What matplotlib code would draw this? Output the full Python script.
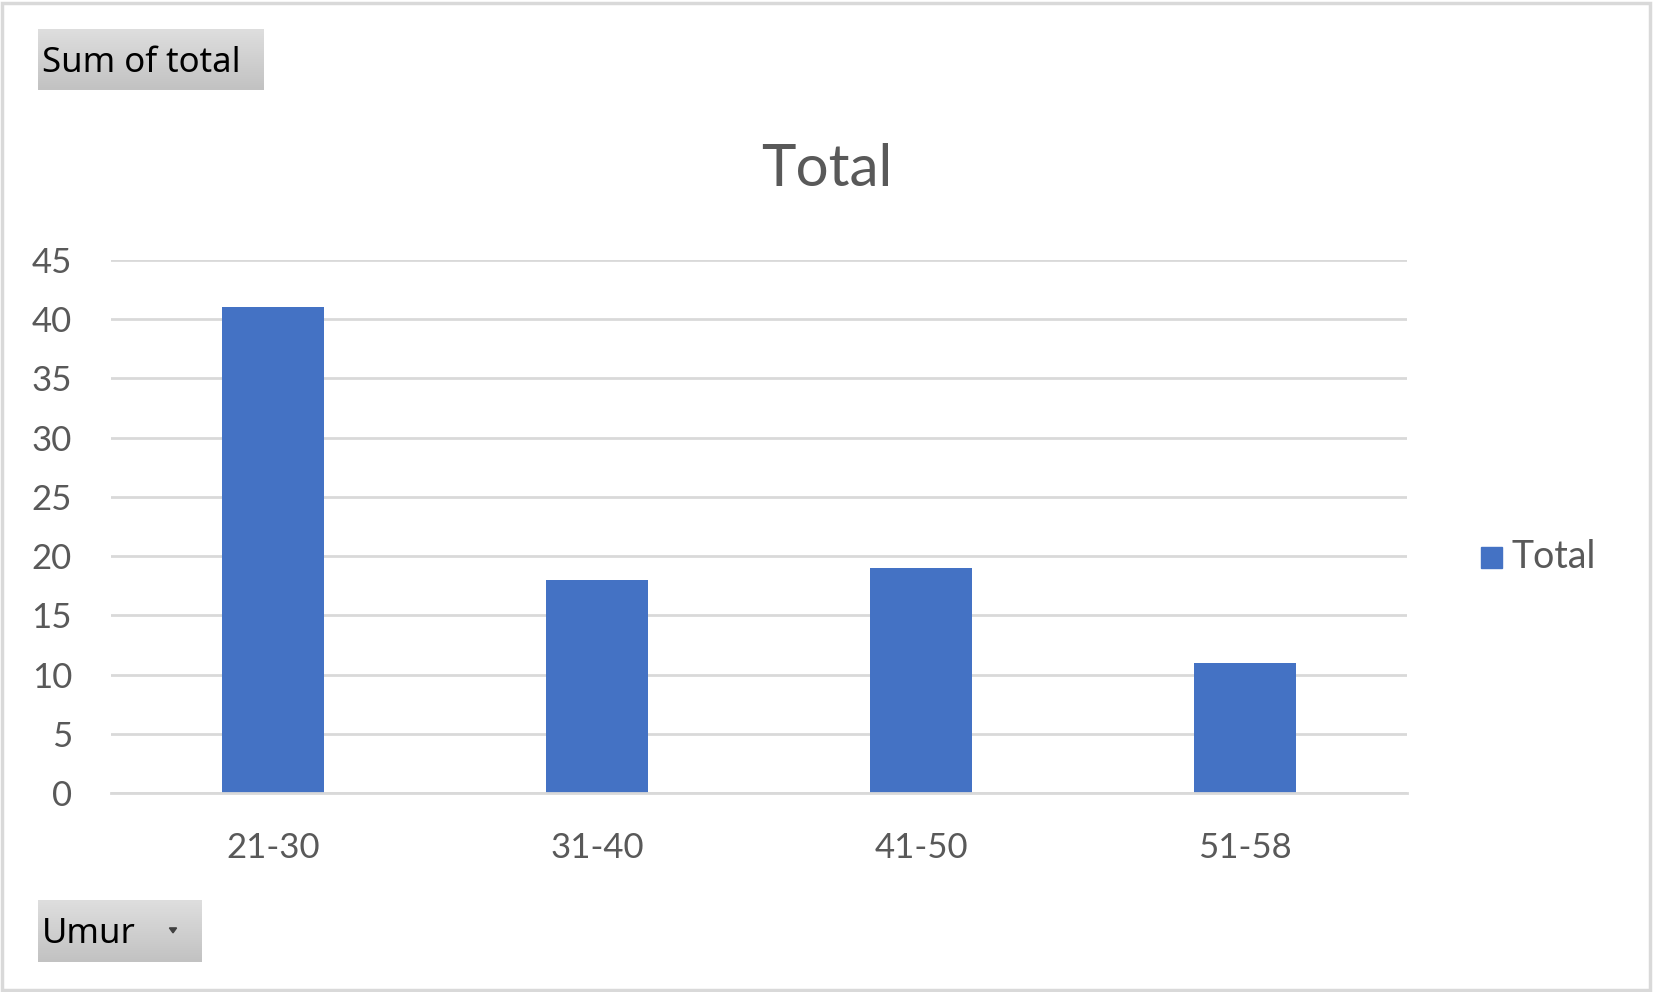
import matplotlib
matplotlib.use("Agg")
import matplotlib.pyplot as plt
import numpy as np
from matplotlib.patches import Rectangle, Polygon
from matplotlib.colors import LinearSegmentedColormap

categories = ["21-30", "31-40", "41-50", "51-58"]
values = [41, 18, 19, 11]
series_name = "Total"
yticks = [0, 5, 10, 15, 20, 25, 30, 35, 40, 45]

W, H = 1653, 992
fig = plt.figure(figsize=(W / 100, H / 100), dpi=100)
fig.patch.set_facecolor("white")

FONT = "Lato"
GRAY = "#595959"
GRID = "#d9d9d9"
BLUE = "#4472C4"

def fx(px):
    return px / W

def fy(py):
    return 1 - py / H

# plot area
left, right, top, bottom = 111, 1407, 260, 793
ax = fig.add_axes([fx(left), fy(bottom), fx(right - left), (bottom - top) / H])
x = np.arange(len(categories))
ax.bar(x, values, width=0.315, color=BLUE, zorder=3)
ax.set_xlim(-0.5, len(categories) - 0.5)
ax.set_ylim(0, 45)
ax.set_yticks(yticks)
ax.set_xticks(x)
ax.set_xticklabels(categories)
for s in ["top", "right", "left"]:
    ax.spines[s].set_visible(False)
ax.spines["bottom"].set_color(GRID)
ax.spines["bottom"].set_linewidth(2.0)
ax.spines["bottom"].set_zorder(4)
ax.grid(axis="y", color=GRID, linewidth=2.0, zorder=0)
ax.tick_params(axis="both", length=0, labelsize=25, labelcolor=GRAY)
ax.tick_params(axis="x", pad=28)
ax.tick_params(axis="y", pad=28)
for lab in ax.get_xticklabels() + ax.get_yticklabels():
    lab.set_fontfamily(FONT)
ax.set_facecolor("none")

# title
fig.text(0.5, fy(170), "Total", ha="center", va="center", fontsize=42,
         color=GRAY, fontfamily=FONT)

# legend
fig.patches.append(Rectangle((fx(1481), fy(568)), fx(21), 21 / H,
                             transform=fig.transFigure, color=BLUE))
fig.text(fx(1512), fy(557), series_name, ha="left", va="center", fontsize=27,
         color=GRAY, fontfamily=FONT)

# buttons with gradient
grad = np.linspace(0, 1, 64).reshape(-1, 1)
cmap = LinearSegmentedColormap.from_list("btn", ["#dedede", "#c2c2c2"])

def button(x0, y0, x1, y1, label, arrow=False):
    bax = fig.add_axes([fx(x0), fy(y1), fx(x1 - x0), (y1 - y0) / H])
    bax.imshow(grad, aspect="auto", cmap=cmap, extent=[0, 1, 0, 1], origin="upper")
    bax.set_axis_off()
    bax.text(4 / (x1 - x0), 0.45, label, transform=bax.transAxes, ha="left", va="center",
             fontsize=25, color="black", fontfamily="Noto Sans")
    if arrow:
        ax_ = (173 - x0) / (x1 - x0)
        bax.add_patch(Polygon([[ax_ - 0.022, 0.55], [ax_ + 0.022, 0.55], [ax_, 0.47]],
                              closed=True, transform=bax.transAxes,
                              color="#404040"))

button(38, 29, 264, 90, "Sum of total")
button(38, 900, 202, 962, "Umur", arrow=True)

# outer border
fig.patches.append(Rectangle((0.001, 0.002), 0.997, 0.995, transform=fig.transFigure,
                             fill=False, edgecolor=GRID, linewidth=2.5))

fig.savefig("out.png", dpi=100)
